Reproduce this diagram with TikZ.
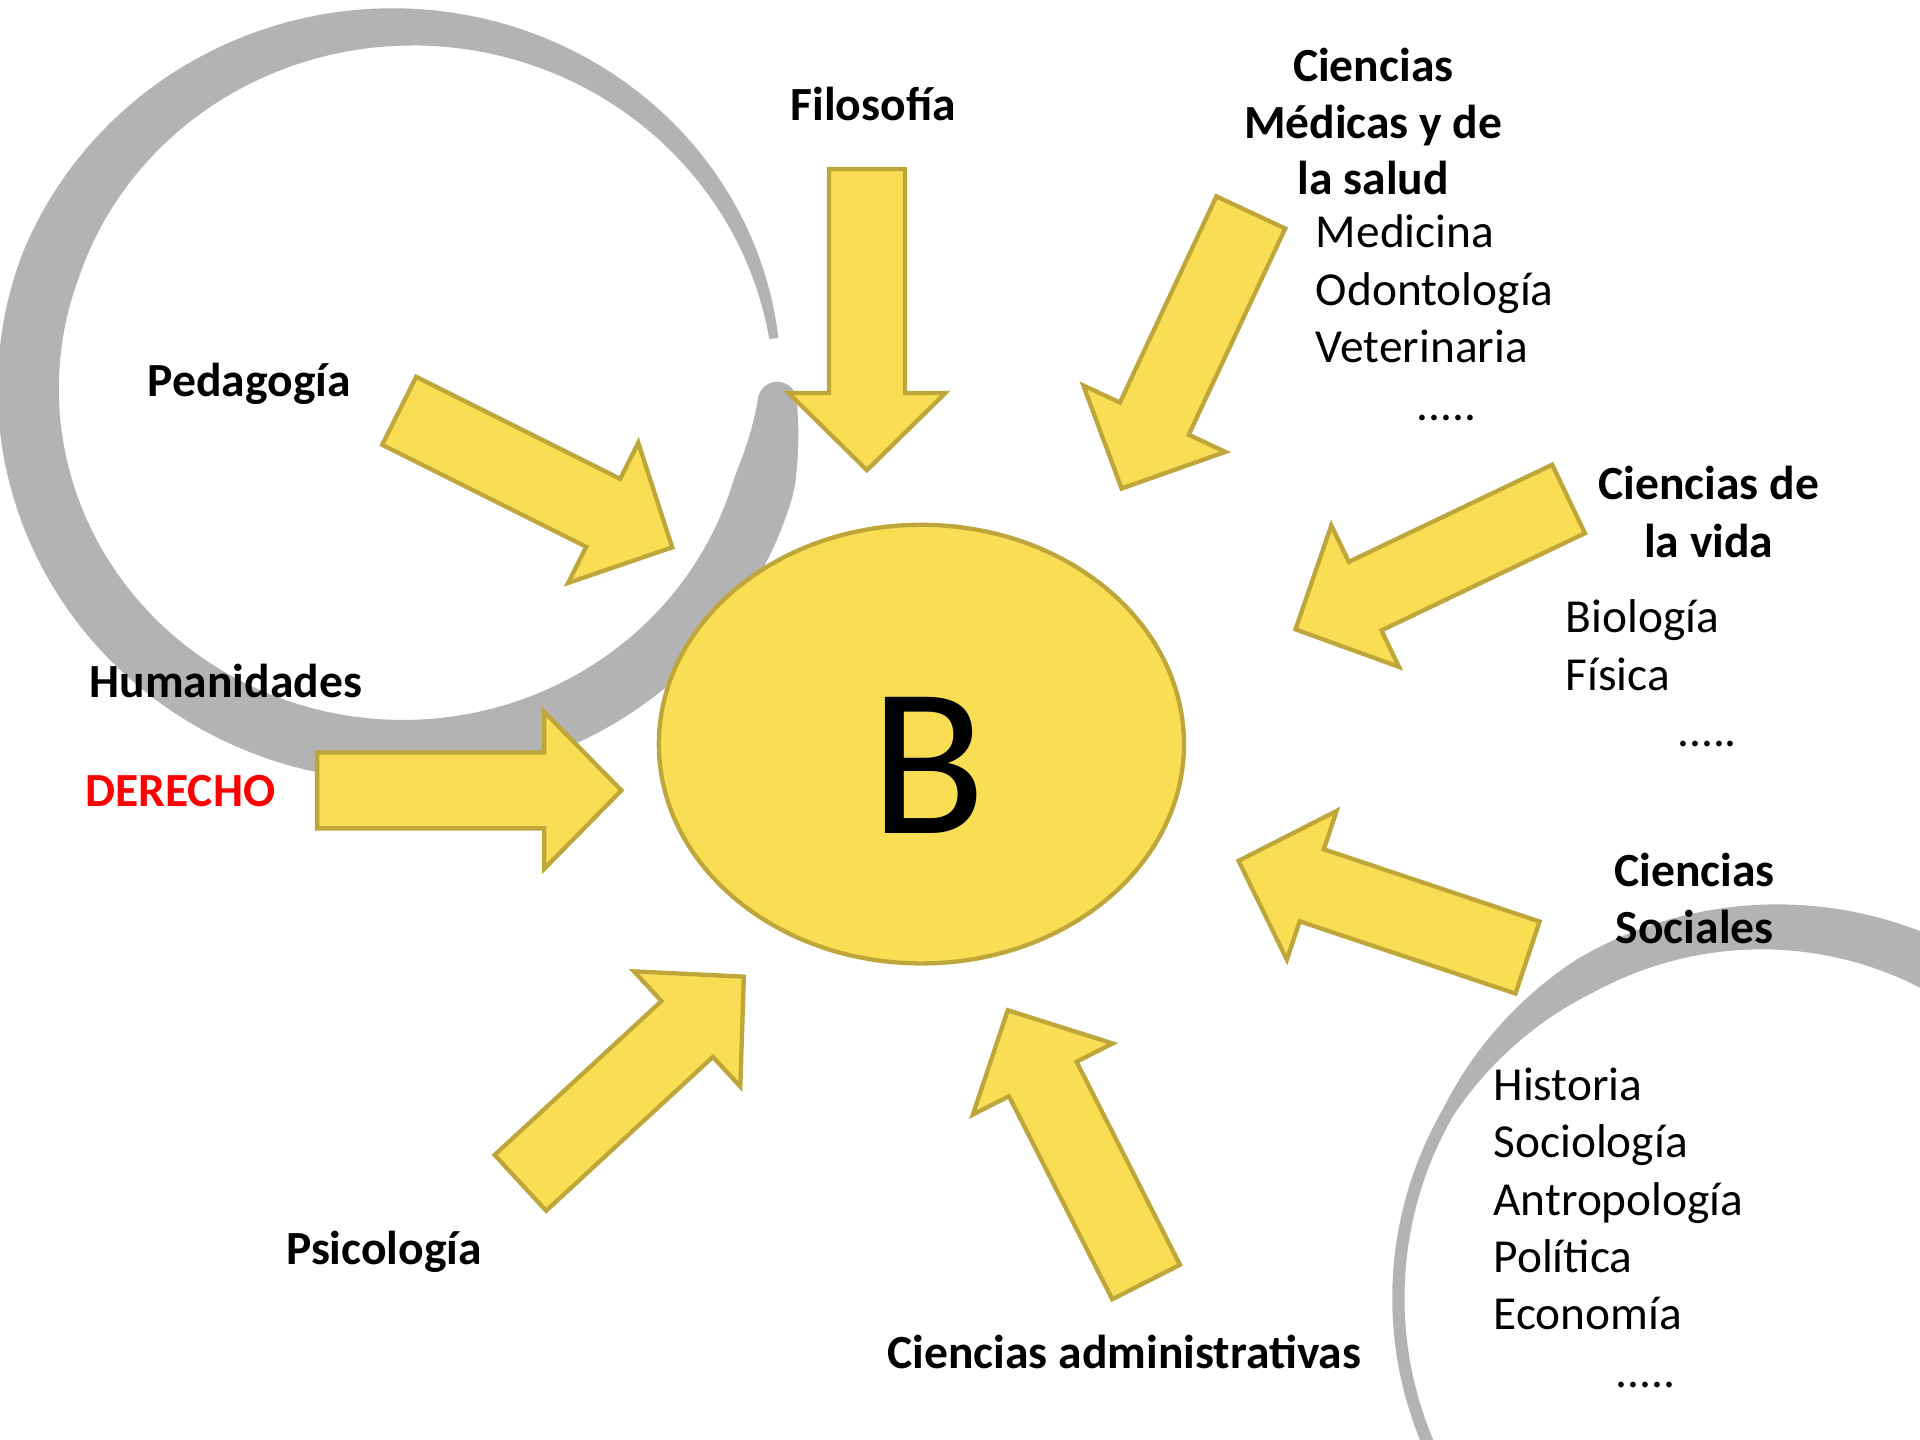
\documentclass[tikz,border=0pt]{standalone}
\usepackage{fontspec}
\setmainfont{Carlito}
\usetikzlibrary{positioning,calc,shapes.geometric}
\definecolor{sunfill}{RGB}{249,222,83}
\definecolor{sunedge}{RGB}{191,166,58}
\definecolor{ensogray}{RGB}{179,179,179}
% block arrow from tail #1 to tip #2
\newcommand{\yarrow}[2]{%
  \coordinate (#2-b) at ($(#2)!0.63cm!(#1)$);
  \draw[blockarrow] ($(#1)!0.31cm!90:(#2)$)
    -- ($(#2-b)!0.31cm!-90:(#1)$) -- ($(#2-b)!0.64cm!-90:(#1)$)
    -- (#2)
    -- ($(#2-b)!0.64cm!90:(#1)$) -- ($(#2-b)!0.31cm!90:(#1)$)
    -- ($(#1)!0.31cm!-90:(#2)$) -- cycle;}
\tikzset{
  blockarrow/.style={draw=sunedge,fill=sunfill,line width=1pt},
  field/.style={font=\fontsize{11.05}{13.4}\selectfont\bfseries,inner sep=0pt,anchor=base},
  topic/.style={inner sep=0pt,anchor=base west},
  enso/.style={fill=ensogray},
  declare function={bigw(\t)=50-42*max(0,(\t-200)/150)-max(0,18*(15-\t)/13);
    smallw(\t)=ifthenelse(\t>-120,30+0.225*(\t+120),max(10,30+0.667*(\t+120)));}
}
\begin{document}
\begin{tikzpicture}[x=0.01cm,y=-0.01cm,font=\fontsize{11}{13.4}\selectfont]
\path[use as bounding box,fill=white] (0,0) rectangle (1568,1176);
\begin{scope}
\clip (0,0) rectangle (1568,1176);
% brush circles
\fill[enso] plot[domain=2:352,samples=150] ({329+(306+bigw(\x)/2)*cos(\x)},{317.5+(295.5+bigw(\x)/2)*sin(\x)})
  -- plot[domain=352:2,samples=150] ({329+(306-bigw(\x)/2)*cos(\x)},{317.5+(295.5-bigw(\x)/2)*sin(\x)}) -- cycle;
\fill[enso] ({329+306*cos(2)},{317.5+295.5*sin(2)}) circle (16);
\fill[enso] plot[domain=-40:-205,samples=150] ({1445+(303+smallw(\x)/2)*cos(\x)},{1060+(303+smallw(\x)/2)*sin(\x)})
  -- plot[domain=-205:-40,samples=150] ({1445+(303-smallw(\x)/2)*cos(\x)},{1060+(303-smallw(\x)/2)*sin(\x)}) -- cycle;
\end{scope}

\node[ellipse,draw=sunedge,fill=sunfill,line width=1pt,minimum width=4.286cm,minimum height=3.58cm,inner sep=0pt] (core) at (752.5,607.7) {};
\node[inner sep=0pt,font=\fontsize{49.3}{59}\selectfont] (letter) at (758,625) {B};

\coordinate (filosofia-t) at (708,138);    \coordinate (filosofia-h) at (708,384);
\coordinate (pedagogia-t) at (326,335.5);  \coordinate (pedagogia-h) at (549,447);
\coordinate (medicas-t) at (1021.5,173.5); \coordinate (medicas-h) at (916,399);
\coordinate (vida-t) at (1281,407.5);      \coordinate (vida-h) at (1058,514);
\coordinate (sociales-t) at (1247.5,782);  \coordinate (sociales-h) at (1011.5,703);
\coordinate (admin-t) at (936,1047);       \coordinate (admin-h) at (823,825);
\coordinate (psico-t) at (425,966);        \coordinate (psico-h) at (607.5,797.6);
\coordinate (human-t) at (259,645.5);      \coordinate (human-h) at (507.5,645.5);
\yarrow{filosofia-t}{filosofia-h}
\yarrow{pedagogia-t}{pedagogia-h}
\yarrow{medicas-t}{medicas-h}
\yarrow{vida-t}{vida-h}
\yarrow{sociales-t}{sociales-h}
\yarrow{admin-t}{admin-h}
\yarrow{psico-t}{psico-h}
\yarrow{human-t}{human-h}

\node[field,anchor=base west] (filosofia) at (645,98.5) {Filosofía};
\node[field,anchor=base west] (pedagogia) at (120,324) {Pedagogía};
\node[field,anchor=base west] (humanidades) at (72.5,570) {Humanidades};
\node[field,anchor=base west,text=red] (derecho) at (69,658.5) {DERECHO};
\node[field,anchor=base west] (psicologia) at (233,1032.5) {Psicología};
\node[field,anchor=base west] (admin) at (724,1117.5) {Ciencias administrativas};

\foreach \txt [count=\i] in {Ciencias,Médicas y de,la salud}
  \node[field] (medicas-\i) at (1121.5,{66.5+46.3*(\i-1)}) {\txt};
\foreach \txt [count=\i] in {Medicina,Odontología,Veterinaria}
  \node[topic] (med-\i) at (1074,{202.5+46.8*(\i-1)}) {\txt};
\node[topic] (med-dots) at (1156.5,343.5) {.....};

\foreach \txt [count=\i] in {Ciencias de,la vida}
  \node[field] (vida-\i) at (1395.5,{408+47*(\i-1)}) {\txt};
\foreach \txt [count=\i] in {Biología,Física}
  \node[topic] (bio-\i) at (1278,{516.75+46.8*(\i-1)}) {\txt};
\node[topic] (bio-dots) at (1369,610) {.....};

\foreach \txt [count=\i] in {Ciencias,Sociales}
  \node[field] (sociales-\i) at (1384,{723.75+46.8*(\i-1)}) {\txt};
\foreach \txt [count=\i] in {Historia,Sociología,Antropología,Política,Economía}
  \node[topic] (soc-\i) at (1219,{898.5+46.9*(\i-1)}) {\txt};
\node[topic] (soc-dots) at (1319,1133) {.....};
\end{tikzpicture}
\end{document}
